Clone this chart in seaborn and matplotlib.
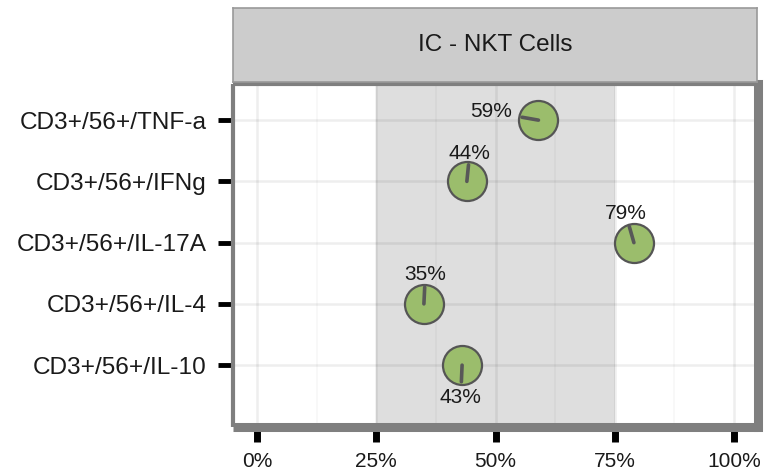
import numpy as np
import pandas as pd
import matplotlib
matplotlib.use("Agg")
import matplotlib.pyplot as plt
import seaborn as sns

# Values
markers = ["CD3+/56+/TNF-a", "CD3+/56+/IFNg", "CD3+/56+/IL-17A",
           "CD3+/56+/IL-4", "CD3+/56+/IL-10"]
percent = [59, 44, 79, 35, 43]
x_ticks = [0, 25, 50, 75, 100]
x_tick_labels = ["0%", "25%", "50%", "75%", "100%"]
panel_title = "IC - NKT Cells"

# Label placement (offset in points from each dot)
label_offsets = [(-34, 6), (2, 20), (-6, 21), (1, 21), (-1, -23)]

df = pd.DataFrame({"marker": markers, "pct": percent})
df["pos"] = np.arange(len(markers))

sns.set_theme(style="white")
plt.rcParams["font.family"] = ["Liberation Sans", "DejaVu Sans"]

fig = plt.figure(figsize=(7.8, 4.74), dpi=100)
W, H = 780, 474
left, right, top, bottom = 233, 758, 84, 427
ax = fig.add_axes([left / W, 1 - bottom / H, (right - left) / W, (bottom - top) / H])

ax.set_xlim(-5, 105)
ax.set_ylim(5.01, -0.59)

# Reference band 25-75%
ax.axvspan(25, 75, color="#dedede", zorder=0, lw=0)

# Grid lines (translucent so they read darker inside the band)
for v in [0, 25, 50, 75, 100]:
    ax.axvline(v, color="black", alpha=0.065, lw=1.8, zorder=1)
for v in [12.5, 37.5, 62.5, 87.5]:
    ax.axvline(v, color="black", alpha=0.03, lw=1.2, zorder=1)
for p in df["pos"]:
    ax.axhline(p, color="black", alpha=0.065, lw=1.8, zorder=1)

sns.scatterplot(data=df, x="pct", y="pos", ax=ax, s=790, color="#9bbd6c",
                edgecolor="#555555", linewidth=1.6, zorder=3, legend=False)

for (x, y, lab), (dx, dy) in zip(zip(df["pct"], df["pos"], df["pct"]), label_offsets):
    d = np.hypot(dx, dy)
    nl = 12.0
    ax.annotate("", xy=(x, y), xytext=(dx / d * nl, dy / d * nl),
                textcoords="offset points",
                arrowprops=dict(arrowstyle="-", color="#585858", lw=2.6,
                                shrinkA=0, shrinkB=0), zorder=4)
    ax.annotate(f"{lab}%", xy=(x, y), xytext=(dx, dy), textcoords="offset points",
                ha="center", va="center", fontsize=15, color="#1a1a1a", zorder=5)

ax.set_xticks(x_ticks)
ax.set_xticklabels(x_tick_labels)
ax.set_yticks(df["pos"])
ax.set_yticklabels(markers)
ax.set_xlabel("")
ax.set_ylabel("")
ax.tick_params(axis="x", length=11, width=5, color="black", pad=7,
               labelsize=15, labelcolor="#1a1a1a", bottom=True)
ax.tick_params(axis="y", length=11, width=3.5, color="black", pad=8,
               labelsize=17.6, labelcolor="#1a1a1a", left=True)

for side in ["left", "top"]:
    ax.spines[side].set_linewidth(3)
    ax.spines[side].set_color("#7f7f7f")
for side in ["right", "bottom"]:
    ax.spines[side].set_linewidth(6.5)
    ax.spines[side].set_color("#7f7f7f")
for s in ax.spines.values():
    s.set_zorder(6)
    s.set_capstyle("butt")
ax.spines["right"].set_capstyle("projecting")

# Facet strip
strip = fig.add_axes([left / W, 1 - 82 / H, (757 - left) / W, (82 - 8) / H])
strip.set_facecolor("#cccccc")
strip.set_xticks([])
strip.set_yticks([])
for s in strip.spines.values():
    s.set_color("#999999")
    s.set_linewidth(1.2)
strip.text(0.5, 0.5, panel_title, ha="center", va="center",
           fontsize=17.5, color="#1a1a1a", transform=strip.transAxes)

fig.savefig("out.png", dpi=100)
